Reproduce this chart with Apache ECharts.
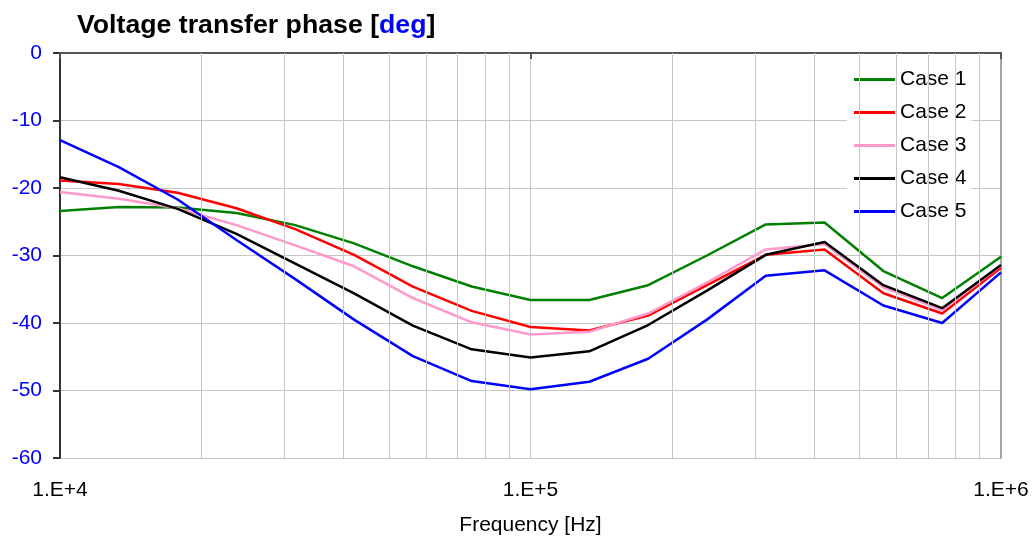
<!DOCTYPE html>
<html>
<head>
<meta charset="utf-8">
<script src="https://cdn.jsdelivr.net/npm/echarts@6/dist/echarts.min.js"></script>
<style>
  html, body { margin: 0; padding: 0; background: #fff; }
  #chart { width: 1034px; height: 541px; }
</style>
</head>
<body>
<div id="chart"></div>
<script>
// frequencies in Hz, eight points per decade
const freqs = [10000, 13335, 17783, 23714, 31623, 42170, 56234, 74989, 100000,
  133352, 177828, 237137, 316228, 421697, 562341, 749894, 1000000];

const case1 = [-23.4, -22.8, -22.9, -23.7, -25.5, -28.2, -31.6, -34.6, -36.6, -36.6, -34.4, -30.0, -25.4, -25.1, -32.3, -36.3, -30.2];
const case2 = [-18.9, -19.4, -20.7, -23.0, -26.1, -29.9, -34.6, -38.2, -40.6, -41.1, -38.9, -34.4, -29.9, -29.1, -35.6, -38.6, -31.8];
const case3 = [-20.6, -21.6, -23.0, -25.5, -28.5, -31.6, -36.3, -39.9, -41.7, -41.3, -38.6, -34.0, -29.1, -28.3, -34.7, -38.1, -31.5];
const case4 = [-18.4, -20.4, -23.1, -26.8, -31.2, -35.6, -40.4, -43.9, -45.1, -44.2, -40.3, -35.2, -29.9, -28.0, -34.4, -37.8, -31.4];
const case5 = [-12.9, -16.9, -21.7, -27.7, -33.5, -39.5, -44.9, -48.6, -49.8, -48.7, -45.3, -39.5, -33.0, -32.2, -37.4, -40.0, -32.5];

const caseNames = ['Case 1', 'Case 2', 'Case 3', 'Case 4', 'Case 5'];
const caseColors = ['#008000', '#ff0000', '#ff99cc', '#000000', '#0000ff'];
const caseValues = [case1, case2, case3, case4, case5];

// minor vertical grid lines (2..9 in each decade)
const minorFreqs = [20000, 30000, 40000, 50000, 60000, 70000, 80000, 90000,
  200000, 300000, 400000, 500000, 600000, 700000, 800000, 900000];

const FONT = "'Liberation Sans', Arial, sans-serif";

const chart = echarts.init(document.getElementById('chart'));

const series = caseNames.map((name, i) => ({
  name,
  type: 'line',
  xAxisIndex: 0,
  yAxisIndex: 0,
  symbol: 'none',
  z: 3,
  lineStyle: { color: caseColors[i], width: 2.5 },
  itemStyle: { color: caseColors[i] },
  data: freqs.map((f, k) => [f, caseValues[i][k]])
}));

series.unshift({
  name: 'minor',
  type: 'line',
  xAxisIndex: 0,
  yAxisIndex: 0,
  data: [],
  z: 1,
  silent: true,
  markLine: {
    silent: true,
    symbol: ['none', 'none'],
    label: { show: false },
    animation: false,
    lineStyle: { color: '#c6c6c6', width: 1, type: 'solid' },
    data: minorFreqs.map(f => ({ xAxis: f }))
  }
});

const option = {
  animation: false,
  textStyle: { fontFamily: FONT },
  title: {
    left: 72,
    top: 7,
    text: '{a|Voltage transfer phase [}{b|deg}{a|]}',
    textStyle: {
      rich: {
        a: { fontFamily: FONT, fontSize: 26.7, fontWeight: 'bold', color: '#000' },
        b: { fontFamily: FONT, fontSize: 26.7, fontWeight: 'bold', color: '#0000ff' }
      }
    }
  },
  legend: {
    orient: 'vertical',
    left: 847,
    top: 60,
    data: caseNames,
    icon: 'rect',
    itemWidth: 41,
    itemHeight: 3,
    itemGap: 12,
    itemTextGap: 6,
    backgroundColor: '#fff',
    padding: [9, 5, 8, 7],
    textStyle: { fontFamily: FONT, fontSize: 21, color: '#000', lineHeight: 21 }
  },
  grid: { left: 60, right: 33, top: 53, bottom: 81 },
  xAxis: [
    {
      type: 'log',
      logBase: 10,
      min: 10000,
      max: 1000000,
      position: 'bottom',
      name: 'Frequency [Hz]',
      nameLocation: 'middle',
      nameGap: 57,
      nameTextStyle: { fontFamily: FONT, fontSize: 21, color: '#000' },
      axisLine: { show: true, lineStyle: { color: '#8c8c8c', width: 2 } },
      axisTick: { show: false },
      axisLabel: {
        margin: 22,
        fontFamily: FONT,
        fontSize: 21,
        color: '#000',
        formatter: v => '1.E+' + Math.round(Math.log10(v))
      },
      splitLine: { show: true, lineStyle: { color: '#c6c6c6', width: 1 } },
      minorTick: { show: false }
    },
    {
      type: 'log',
      logBase: 10,
      min: 10000,
      max: 1000000,
      position: 'top',
      axisLine: { show: true, lineStyle: { color: '#555', width: 2 } },
      axisTick: { show: true, inside: true, length: 6, lineStyle: { color: '#555', width: 2 } },
      axisLabel: { show: false },
      splitLine: { show: false }
    }
  ],
  yAxis: [
    {
      type: 'value',
      min: -60,
      max: 0,
      interval: 10,
      position: 'left',
      axisLine: { show: true, lineStyle: { color: '#333', width: 2 } },
      axisTick: { show: true, length: 7, lineStyle: { color: '#333', width: 2 } },
      axisLabel: { margin: 18, fontFamily: FONT, fontSize: 21, color: '#0000ff' },
      splitLine: { show: true, lineStyle: { color: '#c6c6c6', width: 1 } }
    },
    {
      type: 'value',
      min: -60,
      max: 0,
      interval: 10,
      position: 'right',
      axisLine: { show: true, lineStyle: { color: '#a6a6a6', width: 2 } },
      axisTick: { show: false },
      axisLabel: { show: false },
      splitLine: { show: false }
    }
  ],
  series
};

chart.setOption(option);
</script>
</body>
</html>
